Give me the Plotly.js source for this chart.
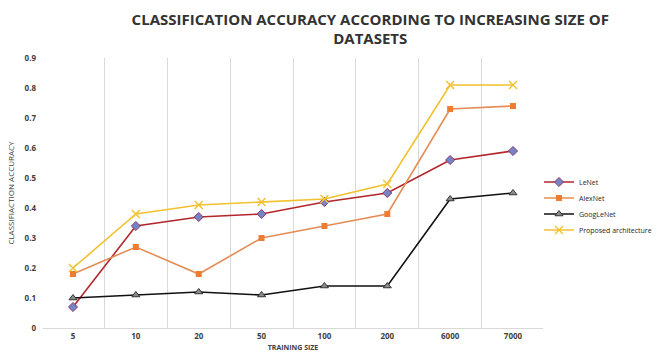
<!DOCTYPE html>
<html>
<head>
<meta charset="utf-8">
<script src="https://cdn.plot.ly/plotly-3.0.1.min.js"></script>
<style>
  html, body { margin: 0; padding: 0; background: #fff; }
  #chart { width: 660px; height: 352px; }
</style>
</head>
<body>
<div id="chart"></div>
<script>
// Training set sizes (categories on the x axis)
const trainingSizes = ['5', '10', '20', '50', '100', '200', '6000', '7000'];

// Classification accuracy per architecture
const leNet     = [0.07, 0.34, 0.37, 0.38, 0.42, 0.45, 0.56, 0.59];
const alexNet   = [0.18, 0.27, 0.18, 0.30, 0.34, 0.38, 0.73, 0.74];
const googLeNet = [0.10, 0.11, 0.12, 0.11, 0.14, 0.14, 0.43, 0.45];
const proposed  = [0.20, 0.38, 0.41, 0.42, 0.43, 0.48, 0.81, 0.81];

const seriesNames = ['LeNet', 'AlexNet', 'GoogLeNet', 'Proposed architecture'];

const fontFamily = '"Open Sans", "DejaVu Sans", sans-serif';

const traces = [
  {
    x: trainingSizes, y: leNet, name: seriesNames[0], legend: 'legend',
    type: 'scatter', mode: 'lines+markers',
    line: { color: '#b3262b', width: 1.6 },
    marker: { symbol: 'diamond', size: 7, color: '#7484c4', line: { color: '#8a3a6a', width: 1 } }
  },
  {
    x: trainingSizes, y: alexNet, name: seriesNames[1], legend: 'legend2',
    type: 'scatter', mode: 'lines+markers',
    line: { color: '#e48c55', width: 1.6 },
    marker: { symbol: 'square', size: 6, color: '#ed7d31' }
  },
  {
    x: trainingSizes, y: googLeNet, name: seriesNames[2], legend: 'legend3',
    type: 'scatter', mode: 'lines+markers',
    line: { color: '#111111', width: 1.6 },
    marker: { symbol: 'triangle-up', size: 7, color: '#8c8c8c', line: { color: '#333333', width: 1 } }
  },
  {
    x: trainingSizes, y: proposed, name: seriesNames[3], legend: 'legend4',
    type: 'scatter', mode: 'lines+markers',
    line: { color: '#f2c12e', width: 1.6 },
    marker: { symbol: 'x-thin', size: 8, color: '#f2c12e', line: { color: '#f2c12e', width: 1.4 } }
  }
];

// One small legend per series, stacked on the right
function legendAt(yPx) {
  return {
    xref: 'container', x: 539 / 660, xanchor: 'left',
    yref: 'container', y: 1 - yPx / 352, yanchor: 'middle',
    font: { size: 7, color: '#262626', weight: 'normal' },
    itemwidth: 30,
    bgcolor: 'rgba(0,0,0,0)'
  };
}

const layout = {
  width: 660,
  height: 352,
  margin: { l: 43, r: 117, t: 58, b: 24, pad: 0, autoexpand: false },
  paper_bgcolor: '#ffffff',
  plot_bgcolor: '#ffffff',
  font: { family: fontFamily, color: '#595959' },
  title: {
    text: '<b>CLASSIFICATION ACCURACY ACCORDING TO INCREASING SIZE OF<br>DATASETS</b>',
    font: { family: fontFamily, size: 15, color: '#333333' },
    xref: 'container', x: 0.561, xanchor: 'center',
    yref: 'container', y: 0.93, yanchor: 'top'
  },
  xaxis: {
    type: 'category',
    tickson: 'boundaries',
    showgrid: true,
    gridcolor: '#d9d9d9',
    gridwidth: 1,
    showline: true,
    linecolor: '#d9d9d9',
    ticks: '',
    tickfont: { size: 8, color: '#404040', weight: 'bold' },
    title: { text: '<b>TRAINING SIZE</b>', font: { size: 7, color: '#404040' }, standoff: 9 },
    fixedrange: true
  },
  yaxis: {
    range: [0, 0.9],
    dtick: 0.1,
    showgrid: false,
    zeroline: false,
    showline: false,
    ticks: '',
    tickfont: { size: 8, color: '#404040', weight: 'bold' },
    ticklabelstandoff: 6,
    title: { text: 'CLASSIFIACTION ACCURACY', font: { size: 8, color: '#404040' }, standoff: 8 },
    fixedrange: true
  },
  showlegend: true,
  legend: legendAt(182),
  legend2: legendAt(198),
  legend3: legendAt(214),
  legend4: legendAt(230)
};

Plotly.newPlot('chart', traces, layout, { displayModeBar: false, staticPlot: true });
</script>
</body>
</html>
